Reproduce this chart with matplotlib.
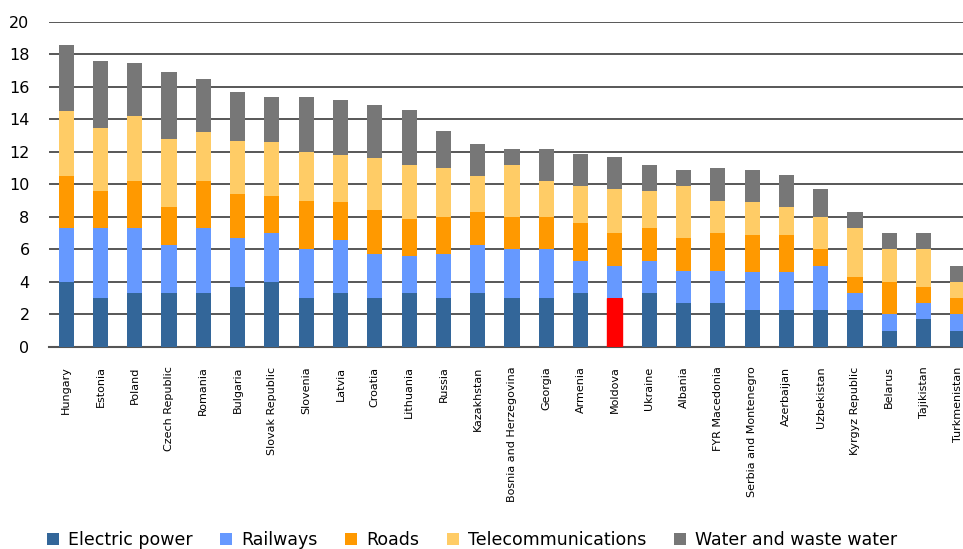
import matplotlib
matplotlib.use("Agg")
import matplotlib.pyplot as plt
import numpy as np

countries = ["Hungary", "Estonia", "Poland", "Czech Republic", "Romania", "Bulgaria",
             "Slovak Republic", "Slovenia", "Latvia", "Croatia", "Lithuania", "Russia",
             "Kazakhstan", "Bosnia and Herzegovina", "Georgia", "Armenia", "Moldova",
             "Ukraine", "Albania", "FYR Macedonia", "Serbia and Montenegro", "Azerbaijan",
             "Uzbekistan", "Kyrgyz Republic", "Belarus", "Tajikistan", "Turkmenistan"]

# segment heights
electric = [4.0, 3.0, 3.3, 3.3, 3.3, 3.7, 4.0, 3.0, 3.3, 3.0, 3.3, 3.0, 3.3, 3.0,
            3.0, 3.3, 3.0, 3.3, 2.7, 2.7, 2.3, 2.3, 2.3, 2.3, 1.0, 1.7, 1.0]
railways = [3.3, 4.3, 4.0, 3.0, 4.0, 3.0, 3.0, 3.0, 3.3, 2.7, 2.3, 2.7, 3.0, 3.0,
            3.0, 2.0, 2.0, 2.0, 2.0, 2.0, 2.3, 2.3, 2.7, 1.0, 1.0, 1.0, 1.0]
roads = [3.2, 2.3, 2.9, 2.3, 2.9, 2.7, 2.3, 3.0, 2.3, 2.7, 2.3, 2.3, 2.0, 2.0,
         2.0, 2.3, 2.0, 2.0, 2.0, 2.3, 2.3, 2.3, 1.0, 1.0, 2.0, 1.0, 1.0]
telecom = [4.0, 3.9, 4.0, 4.2, 3.0, 3.3, 3.3, 3.0, 2.9, 3.2, 3.3, 3.0, 2.2, 3.2,
           2.2, 2.3, 2.7, 2.3, 3.2, 2.0, 2.0, 1.7, 2.0, 3.0, 2.0, 2.3, 1.0]
water = [4.1, 4.1, 3.3, 4.1, 3.3, 3.0, 2.8, 3.4, 3.4, 3.3, 3.4, 2.3, 2.0, 1.0,
         2.0, 2.0, 2.0, 1.6, 1.0, 2.0, 2.0, 2.0, 1.7, 1.0, 1.0, 1.0, 1.0]

sectors = ["Electric power", "Railways", "Roads", "Telecommunications", "Water and waste water"]
colors = ["#336699", "#6699ff", "#ff9900", "#ffcc66", "#777777"]
highlight = "Moldova"

fig = plt.figure(figsize=(9.63, 5.49), dpi=100)
ax = fig.add_axes([49 / 963, 0.368, 914 / 963, 0.592])

x = np.arange(len(countries))
series = [electric, railways, roads, telecom, water]
bottom = np.zeros(len(countries))
handles = []
for vals, col, name in zip(series, colors, sectors):
    vals = np.array(vals)
    bars = ax.bar(x, vals, width=0.44, bottom=bottom, color=col, label=name, zorder=3)
    handles.append(bars[0])
    if name == "Electric power":
        bars[countries.index(highlight)].set_color("#ff0000")
    bottom = bottom + vals

ax.set_ylim(0, 20)
ax.set_xlim(-0.5, 26.15)
ax.set_yticks(np.arange(0, 21, 2))
ax.yaxis.grid(True, color="#2a2a2a", linewidth=1.1, zorder=0)
ax.set_axisbelow(True)
for s in ["top", "right", "left"]:
    ax.spines[s].set_visible(False)
ax.spines["bottom"].set_color("#555555")
ax.spines["bottom"].set_linewidth(1.5)

ax.tick_params(axis="y", length=0, pad=14, labelsize=11.5)
ax.tick_params(axis="x", length=0, pad=14)
ax.set_xticks(x)
ax.set_xticklabels(countries, rotation=90, fontsize=8, va="top")

leg = fig.legend(handles, sectors, loc="lower center", ncol=5, frameon=False,
                 bbox_to_anchor=(0.49, -0.028), fontsize=12.5, handlelength=0.7,
                 handleheight=0.7, handletextpad=0.5, columnspacing=1.6)

fig.savefig("out.png", dpi=100)
